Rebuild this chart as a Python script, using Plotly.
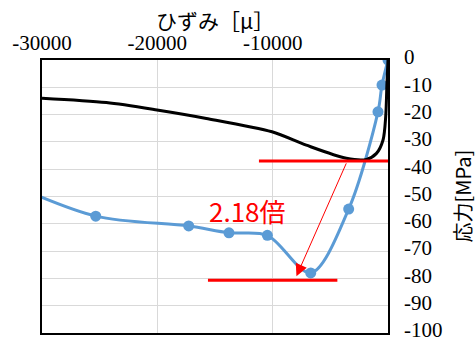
import plotly.graph_objects as go

# Measured stress-strain curves (strain in micro, stress in MPa)
blue_strain = [-33500, -25340, -17280, -13790, -10460, -6700, -3410, -870, -520, 0]
blue_stress = [-44.0, -57.2, -60.8, -63.3, -64.2, -78.0, -54.6, -19.0, -9.2, 0.0]
blue_marker_strain = blue_strain[1:]
blue_marker_stress = blue_stress[1:]

black_strain = [-30000, -24420, -20030, -15750, -10060, -7080, -3610, -1870, -1000, -430, -200, -90, 0]
black_stress = [-14.0, -15.6, -18.3, -21.4, -26.3, -31.2, -36.0, -36.4, -34.2, -29.3, -20.8, -8.5, 0.0]

# Reference levels and ratio annotation
ratio = 2.18
upper_level = -37.0
lower_level = upper_level * ratio
upper_span = [-11190, 0]
lower_span = [-15610, -4390]
arrow_tail = (-3560, -37.3)
arrow_tip = (-7940, -79.2)
ratio_label_pos = (-12150, -55.0)

x_tickvals = [-30000, -20000, -10000]
x_ticktext = ["-30000", "-20000", "-10000"]
y_tickvals = [0, -10, -20, -30, -40, -50, -60, -70, -80, -90, -100]
y_ticktext = ["0", "-10", "-20", "-30", "-40", "-50", "-60", "-70", "-80", "-90", "-100"]
x_title = "ひずみ［μ］"
y_title = "応力[MPa]"

BLUE = "#5B9BD5"
RED = "#FF0000"
serif = "Liberation Serif"
jp = "Noto Sans CJK JP"

fig = go.Figure()

fig.add_trace(go.Scatter(
    x=blue_strain, y=blue_stress, mode="lines",
    line=dict(color=BLUE, width=3, shape="spline", smoothing=0.9),
    hoverinfo="skip", showlegend=False,
))
fig.add_trace(go.Scatter(
    x=blue_marker_strain, y=blue_marker_stress, mode="markers",
    marker=dict(color=BLUE, size=11),
    showlegend=False,
))
fig.add_trace(go.Scatter(
    x=black_strain, y=black_stress, mode="lines",
    line=dict(color="black", width=3, shape="spline", smoothing=0.8),
    showlegend=False,
))
fig.add_trace(go.Scatter(
    x=upper_span, y=[upper_level, upper_level], mode="lines",
    line=dict(color=RED, width=3), showlegend=False,
))
fig.add_trace(go.Scatter(
    x=lower_span, y=[lower_level, lower_level], mode="lines",
    line=dict(color=RED, width=3), showlegend=False,
))

fig.add_annotation(
    x=arrow_tip[0], y=arrow_tip[1], ax=arrow_tail[0], ay=arrow_tail[1],
    xref="x", yref="y", axref="x", ayref="y", text="",
    showarrow=True, arrowhead=2, arrowsize=2.4, arrowwidth=1, arrowcolor=RED,
)
fig.add_annotation(
    x=ratio_label_pos[0], y=ratio_label_pos[1], xref="x", yref="y",
    text=f"{ratio}倍", showarrow=False,
    font=dict(family=jp, size=26, color=RED),
)

# Axis titles placed relative to the plot area
fig.add_annotation(
    x=0.5, y=1, xref="paper", yref="paper", yshift=40,
    xanchor="center", yanchor="middle", text=x_title, showarrow=False,
    font=dict(family=jp, size=21, color="black"),
)
fig.add_annotation(
    x=1, y=0.5, xref="paper", yref="paper", xshift=74,
    xanchor="center", yanchor="middle", text=y_title, textangle=-90, showarrow=False,
    font=dict(family=jp, size=20, color="black"),
)

fig.update_layout(
    width=475, height=338,
    margin=dict(l=42, r=87, t=60, b=5),
    paper_bgcolor="white", plot_bgcolor="white",
    showlegend=False,
)
fig.update_xaxes(
    side="top", range=[-30000, 0],
    tickvals=x_tickvals, ticktext=x_ticktext,
    tickfont=dict(family=serif, size=21, color="black"),
    showgrid=True, gridcolor="#D9D9D9", gridwidth=1.3,
    showline=True, mirror=True, linecolor="black", linewidth=1.5,
    zeroline=False, ticks="", automargin=False,
)
fig.update_yaxes(
    side="right", range=[-100, 0],
    tickvals=y_tickvals, ticktext=y_ticktext,
    tickfont=dict(family=serif, size=21, color="black"),
    showgrid=True, gridcolor="#D9D9D9", gridwidth=1.3,
    showline=True, mirror=True, linecolor="black", linewidth=1.5,
    zeroline=False, ticks="", automargin=False,
    ticklabelstandoff=10, ticklabelshift=-3, ticklabeloverflow="allow",
)

fig.write_html("out.html")
